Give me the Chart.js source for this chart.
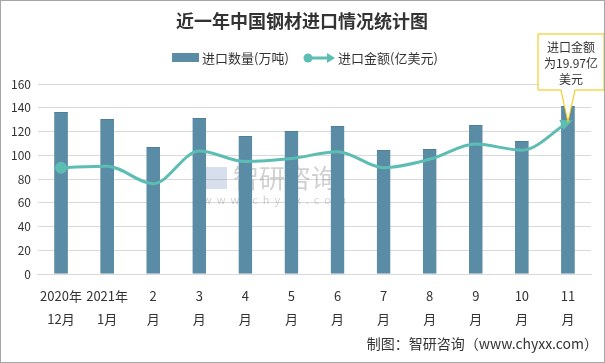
<!DOCTYPE html>
<html>
<head>
<meta charset="utf-8">
<script src="https://cdn.jsdelivr.net/npm/chart.js@4.4.0/dist/chart.umd.min.js"></script>
<style>
  html, body { margin: 0; padding: 0; background: #fff; }
  #wrap { width: 605px; height: 363px; position: relative; box-sizing: border-box; border: 1px solid #a6a6a6; }
</style>
</head>
<body>
<div id="wrap"><canvas id="chart" width="603" height="361"></canvas></div>
<script>
// 数据
const months = [["2020年", "12月"], ["2021年", "1月"], ["2", "月"], ["3", "月"], ["4", "月"], ["5", "月"],
                ["6", "月"], ["7", "月"], ["8", "月"], ["9", "月"], ["10", "月"], ["11", "月"]];
const volume = [136.4, 130.5, 107.0, 131.4, 116.2, 120.4, 124.6, 104.4, 105.3, 125.5, 112.0, 141.5]; // 万吨
const amount = [14.0, 14.2, 11.9, 16.2, 14.8, 15.2, 16.1, 14.0, 15.1, 17.1, 16.3, 19.97];        // 亿美元
const yTicks = [0, 20, 40, 60, 80, 100, 120, 140, 160];

const barColor = "#5b8ca6";
const lineColor = "#5cbdb3";
const cjk = "'Noto Sans CJK SC', 'Microsoft YaHei', sans-serif";

// 标题、图例、水印、标注
const decor = {
    id: "decor",
    afterDatasetsDraw(chart) {
        const ctx = chart.ctx;
        const meta = chart.getDatasetMeta(1);
        const pts = meta.data;
        const last = pts[pts.length - 1];
        const prev = pts[pts.length - 2];

        // 箭头
        const ang = Math.atan2(last.y - prev.y + 8, last.x - prev.x);
        ctx.save();
        ctx.fillStyle = lineColor;
        ctx.translate(last.x, last.y);
        ctx.rotate(ang);
        ctx.beginPath();
        ctx.moveTo(5, 0);
        ctx.lineTo(-7, -5.5);
        ctx.lineTo(-7, 5.5);
        ctx.closePath();
        ctx.fill();
        ctx.restore();

        // 标注框
        ctx.save();
        ctx.strokeStyle = "#f5c400";
        ctx.lineWidth = 1;
        ctx.fillStyle = "#fff";
        const bx = 537, by = 33, bw = 66, bh = 56;
        ctx.beginPath();
        ctx.moveTo(bx, by);
        ctx.lineTo(bx + bw, by);
        ctx.lineTo(bx + bw, by + bh);
        ctx.lineTo(574, by + bh);
        ctx.lineTo(last.x, last.y);
        ctx.lineTo(560, by + bh);
        ctx.lineTo(bx, by + bh);
        ctx.closePath();
        ctx.fill();
        ctx.stroke();
        ctx.fillStyle = "#333";
        ctx.font = "12px " + cjk;
        ctx.textAlign = "center";
        ctx.textBaseline = "middle";
        ctx.fillText("进口金额", 570, 46);
        ctx.fillText("为" + amount[amount.length - 1] + "亿", 570, 62);
        ctx.fillText("美元", 570, 78);
        ctx.restore();
    },
    beforeDatasetsDraw(chart) {
        const ctx = chart.ctx;
        ctx.save();
        // 水印
        ctx.fillStyle = "rgba(120,150,190,0.3)";
        ctx.fillRect(204, 166, 22, 22);
        ctx.fillStyle = "rgba(140,140,140,0.4)";
        ctx.font = "26px " + cjk;
        ctx.textBaseline = "middle";
        ctx.fillText("智研咨询", 232, 177);
        ctx.font = "11px " + cjk;
        ctx.fillText("w  w  w  .  c  h  y  x  x  .  c  o  m", 202, 199);
        ctx.restore();
    },
    afterDraw(chart) {
        const ctx = chart.ctx;
        ctx.save();
        // 标题
        ctx.fillStyle = "#333";
        ctx.font = "bold 18px " + cjk;
        ctx.textAlign = "center";
        ctx.textBaseline = "middle";
        ctx.fillText("近一年中国钢材进口情况统计图", 301, 20);
        // 图例
        ctx.fillStyle = barColor;
        ctx.fillRect(171, 52, 27, 9);
        ctx.font = "13px " + cjk;
        ctx.textAlign = "left";
        ctx.fillStyle = "#333";
        ctx.fillText("进口数量(万吨)", 201, 57);
        ctx.strokeStyle = lineColor;
        ctx.lineWidth = 3;
        ctx.beginPath();
        ctx.moveTo(306, 57);
        ctx.lineTo(328, 57);
        ctx.stroke();
        ctx.fillStyle = lineColor;
        ctx.beginPath();
        ctx.arc(307, 57, 4.5, 0, Math.PI * 2);
        ctx.fill();
        ctx.beginPath();
        ctx.moveTo(334, 57);
        ctx.lineTo(326, 52);
        ctx.lineTo(326, 62);
        ctx.closePath();
        ctx.fill();
        ctx.fillStyle = "#333";
        ctx.fillText("进口金额(亿美元)", 337, 57);
        // 来源
        ctx.textAlign = "right";
        ctx.font = "14px " + cjk;
        ctx.fillText("制图：智研咨询（www.chyxx.com）", 597, 343);
        ctx.restore();
    }
};

new Chart(document.getElementById("chart"), {
    data: {
        labels: months,
        datasets: [{
            type: "bar",
            label: "进口数量(万吨)",
            data: volume,
            backgroundColor: barColor,
            borderColor: "#4f7f98",
            borderWidth: { top: 1, left: 0, right: 0, bottom: 0 },
            barPercentage: 0.3,
            categoryPercentage: 1,
            yAxisID: "y",
            order: 2
        }, {
            type: "line",
            label: "进口金额(亿美元)",
            data: amount,
            borderColor: lineColor,
            backgroundColor: lineColor,
            borderWidth: 3,
            tension: 0.45,
            cubicInterpolationMode: "monotone",
            pointRadius: amount.map((v, i) => i === 0 ? 4.5 : 0),
            pointBackgroundColor: lineColor,
            yAxisID: "y1",
            order: 1
        }]
    },
    options: {
        responsive: false,
        animation: false,
        layout: { padding: { top: 83, left: 3, right: 13, bottom: 21 } },
        plugins: {
            legend: { display: false },
            title: { display: false },
            tooltip: { enabled: false }
        },
        scales: {
            x: {
                grid: { display: false, drawTicks: false },
                border: { color: "#d9d9d9" },
                ticks: {
                    color: "#333",
                    font: { size: 13, family: cjk, lineHeight: 1.8 },
                    maxRotation: 0,
                    autoSkip: false,
                    padding: 10
                }
            },
            y: {
                min: yTicks[0],
                max: yTicks[yTicks.length - 1],
                afterBuildTicks: axis => { axis.ticks = yTicks.map(v => ({ value: v })); },
                grid: { color: "#d9d9d9", drawTicks: false },
                border: { display: false },
                ticks: { color: "#333", font: { size: 12, family: cjk }, padding: 7 }
            },
            y1: {
                display: false,
                min: 0,
                max: 25
            }
        }
    },
    plugins: [decor]
});
</script>
</body>
</html>
